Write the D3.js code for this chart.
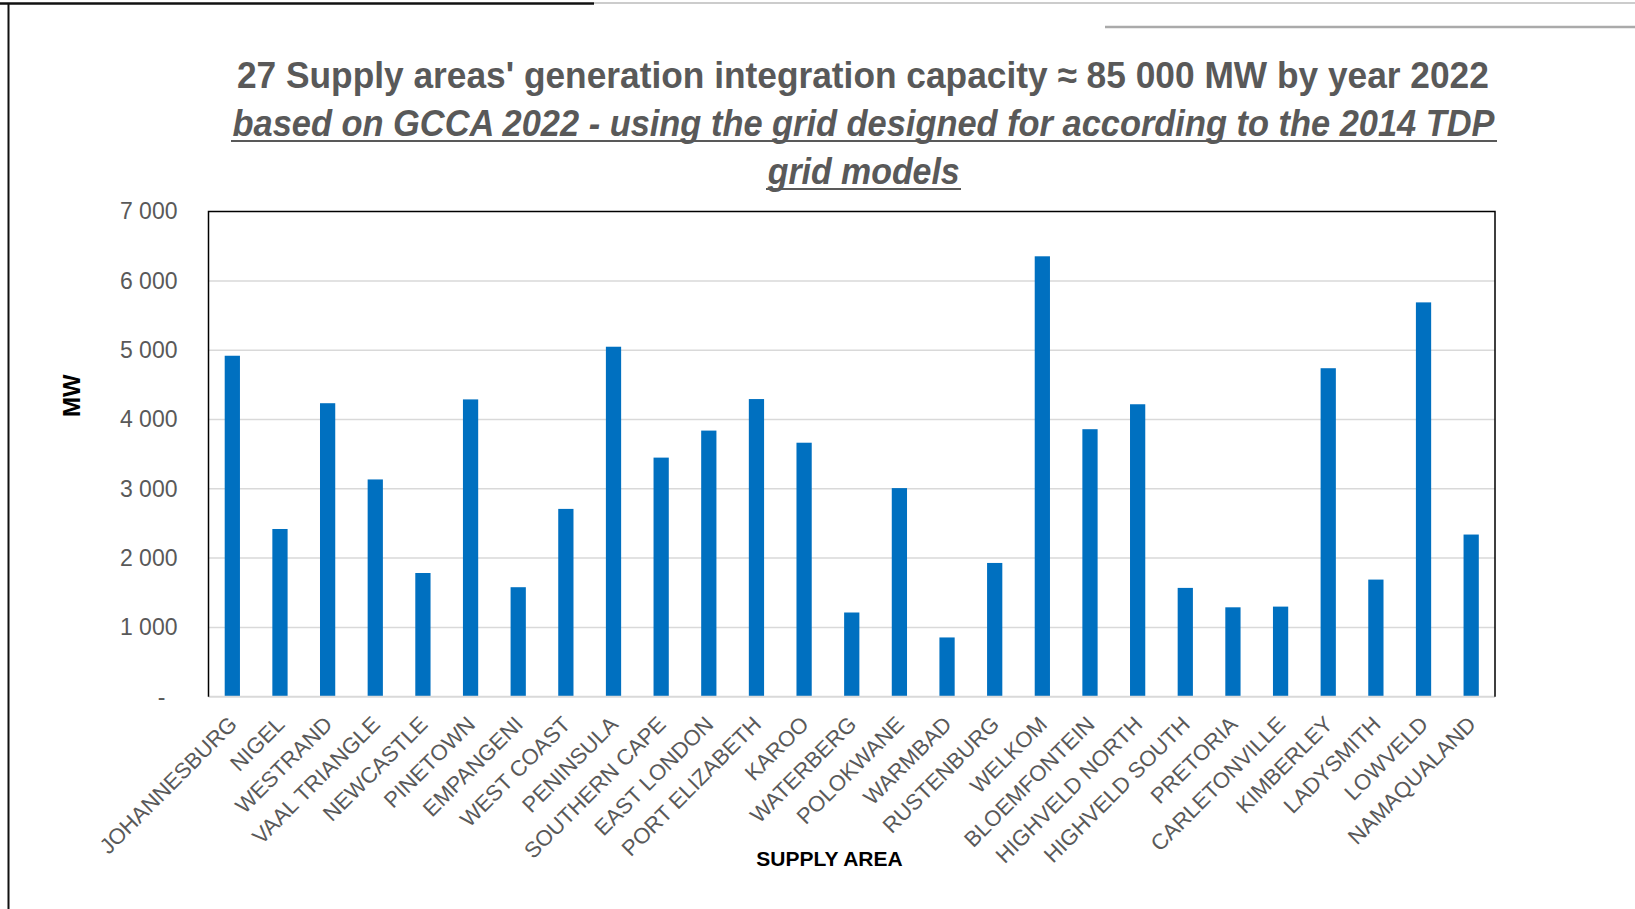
<!DOCTYPE html>
<html>
<head>
<meta charset="utf-8">
<script src="https://cdn.jsdelivr.net/npm/d3@7"></script>
<style>
  html, body { margin: 0; padding: 0; background: #fff; }
  svg { display: block; font-family: "Liberation Sans", Arial, sans-serif; }
  .grid line { stroke: #d9d9d9; stroke-width: 1.5; }
  .title { fill: #595959; font-weight: bold; }
  .tick-label { fill: #595959; font-size: 23px; }
  .x-label { fill: #595959; font-size: 22px; }
</style>
</head>
<body>
<svg id="chart" width="1635" height="909"></svg>
<script>
// data
var areas = ['JOHANNESBURG', 'NIGEL', 'WESTRAND', 'VAAL TRIANGLE', 'NEWCASTLE', 'PINETOWN',
  'EMPANGENI', 'WEST COAST', 'PENINSULA', 'SOUTHERN CAPE', 'EAST LONDON', 'PORT ELIZABETH',
  'KAROO', 'WATERBERG', 'POLOKWANE', 'WARMBAD', 'RUSTENBURG', 'WELKOM', 'BLOEMFONTEIN',
  'HIGHVELD NORTH', 'HIGHVELD SOUTH', 'PRETORIA', 'CARLETONVILLE', 'KIMBERLEY', 'LADYSMITH',
  'LOWVELD', 'NAMAQUALAND'];
var capacityMW = [4920, 2420, 4235, 3135, 1785, 4290, 1580, 2710, 5050, 3450, 3840, 4295,
  3665, 1215, 3010, 855, 1930, 6355, 3860, 4220, 1570, 1290, 1300, 4740, 1690, 5690, 2340];
var yTicks = [0, 1000, 2000, 3000, 4000, 5000, 6000, 7000];

var titleLines = [
  "27 Supply areas' generation integration capacity \u2248 85 000 MW by year 2022",
  "based on GCCA 2022 - using the grid designed for according to the 2014 TDP",
  "grid models"
];

var svg = d3.select('#chart'),
    plot = { left: 208.5, right: 1495, top: 211.6, bottom: 696.7 },
    fmt = d3.formatLocale({ decimal: '.', thousands: ' ', grouping: [3], currency: ['', ''] }).format(',');

var x = d3.scaleBand().domain(areas).range([plot.left, plot.right])
      .paddingInner(0.68).paddingOuter(0.34),
    y = d3.scaleLinear().domain([0, 7000]).range([plot.bottom, plot.top]);

//
// slide frame bits around the chart
svg.append('line').attr('x1', 0).attr('x2', 594).attr('y1', 3.5).attr('y2', 3.5)
  .attr('stroke', '#111').attr('stroke-width', 2.5);
svg.append('line').attr('x1', 594).attr('x2', 1635).attr('y1', 3).attr('y2', 3)
  .attr('stroke', '#bbb').attr('stroke-width', 1.5);
svg.append('line').attr('x1', 8.5).attr('x2', 8.5).attr('y1', 3).attr('y2', 909)
  .attr('stroke', '#111').attr('stroke-width', 2);
svg.append('line').attr('x1', 1105).attr('x2', 1635).attr('y1', 27).attr('y2', 27)
  .attr('stroke', '#aaa').attr('stroke-width', 2.5);

//
// title
var titleSpec = [
  { cx: 862.9, y: 87.7, len: 1252, italic: false, ul: null },
  { cx: 863.5, y: 135.7, len: 1262, italic: true, ul: [231, 1497, 141] },
  { cx: 863.7, y: 183.5, len: 192, italic: true, ul: [766, 961, 189] }
];
titleSpec.forEach(function(s, i) {
  svg.append('text').attr('class', 'title')
    .attr('x', s.cx).attr('y', s.y)
    .attr('text-anchor', 'middle')
    .attr('font-size', 37)
    .attr('font-style', s.italic ? 'italic' : null)
    .attr('textLength', s.len).attr('lengthAdjust', 'spacingAndGlyphs')
    .text(titleLines[i]);
  if (s.ul) {
    svg.append('line').attr('x1', s.ul[0]).attr('x2', s.ul[1])
      .attr('y1', s.ul[2]).attr('y2', s.ul[2])
      .attr('stroke', '#595959').attr('stroke-width', 2.2);
  }
});

//
// gridlines
svg.append('g').attr('class', 'grid')
  .selectAll('line').data(yTicks.filter(function(d) { return d > 0 && d < 7000; }))
  .enter().append('line')
    .attr('x1', plot.left).attr('x2', plot.right)
    .attr('y1', y).attr('y2', y);

//
// bars
svg.selectAll('rect.bar').data(capacityMW).enter()
  .append('rect').attr('class', 'bar')
  .attr('x', function(d, i) { return x(areas[i]); })
  .attr('width', x.bandwidth())
  .attr('y', function(d) { return y(d); })
  .attr('height', function(d) { return y(0) - y(d); })
  .attr('fill', '#0070c0');

// axis line + plot border
svg.append('line').attr('x1', plot.left).attr('x2', plot.right)
  .attr('y1', plot.bottom).attr('y2', plot.bottom)
  .attr('stroke', '#d9d9d9').attr('stroke-width', 2);
svg.append('path')
  .attr('d', 'M' + plot.left + ',' + plot.bottom + 'V' + plot.top + 'H' + plot.right + 'V' + plot.bottom)
  .attr('fill', 'none').attr('stroke', '#000').attr('stroke-width', 1.5);

//
// y axis (labels only)
var yAxis = d3.axisLeft(y).tickValues(yTicks).tickSize(0).tickPadding(0)
  .tickFormat(function(d) { return d === 0 ? '-' : fmt(d); });
var gy = svg.append('g').attr('transform', 'translate(177.5,0)').call(yAxis);
gy.select('.domain').remove();
gy.selectAll('text').attr('class', 'tick-label')
  .attr('font-family', '"Liberation Sans", Arial, sans-serif')
  .attr('x', function(d) { return d === 0 ? -12 : 0; });

//
// x axis labels, rotated
var xAxis = d3.axisBottom(x).tickSize(0).tickPadding(0);
var gx = svg.append('g').attr('transform', 'translate(0,' + plot.bottom + ')').call(xAxis);
gx.select('.domain').remove();
gx.selectAll('text').attr('class', 'x-label')
  .attr('font-family', '"Liberation Sans", Arial, sans-serif')
  .attr('text-anchor', 'end')
  .attr('dy', null).attr('y', 0)
  .attr('transform', 'translate(6,29) rotate(-45)');

// axis titles
svg.append('text')
  .attr('transform', 'translate(80,395.7) rotate(-90)')
  .attr('text-anchor', 'middle')
  .attr('font-size', 24).attr('font-weight', 'bold').attr('fill', '#000')
  .text('MW');
svg.append('text')
  .attr('x', 829.5).attr('y', 865.7)
  .attr('text-anchor', 'middle')
  .attr('font-size', 21).attr('font-weight', 'bold').attr('fill', '#000')
  .text('SUPPLY AREA');
</script>
</body>
</html>
